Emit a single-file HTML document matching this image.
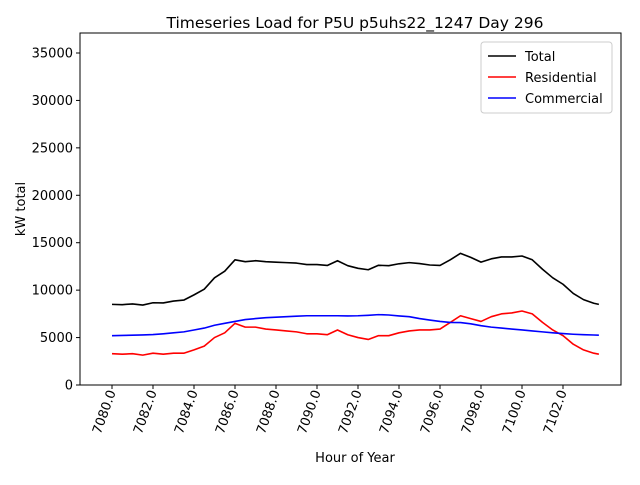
<!DOCTYPE html>
<html><head><meta charset="utf-8"><style>
body{margin:0;background:#fff;}
svg{font-family:"DejaVu Sans","Liberation Sans",sans-serif;}
</style></head><body>
<svg id="chart" width="640" height="480" xmlns="http://www.w3.org/2000/svg">
<rect width="640" height="480" fill="#fff"/>
<text x="355" y="28" text-anchor="middle" font-size="15.5">Timeseries Load for P5U p5uhs22_1247  Day 296</text>
<g id="plot"></g>
<rect x="80" y="33" width="541" height="352" fill="none" stroke="#000" stroke-width="1"/>
<text x="355" y="462" text-anchor="middle" font-size="13">Hour of Year</text>
<text transform="translate(25,209) rotate(-90)" text-anchor="middle" font-size="13">kW total</text>
<g>
<rect x="481" y="42" width="131" height="71" fill="#fff" stroke="#ccc" rx="3"/>
<line x1="488" y1="56" x2="516" y2="56" stroke="#000" stroke-width="1.6"/>
<text x="525" y="61" font-size="13">Total</text>
<line x1="488" y1="77" x2="516" y2="77" stroke="#f00" stroke-width="1.6"/>
<text x="525" y="82" font-size="13">Residential</text>
<line x1="488" y1="98" x2="516" y2="98" stroke="#00f" stroke-width="1.6"/>
<text x="525" y="103" font-size="13">Commercial</text>
</g>
</svg>
<script>
const hours=[7080,7080.5,7081,7081.5,7082,7082.5,7083,7083.5,7084,7084.5,7085,7085.5,7086,7086.5,7087,7087.5,7088,7088.5,7089,7089.5,7090,7090.5,7091,7091.5,7092,7092.5,7093,7093.5,7094,7094.5,7095,7095.5,7096,7096.5,7097,7097.5,7098,7098.5,7099,7099.5,7100,7100.5,7101,7101.5,7102,7102.5,7103,7103.5,7103.75];
const residential=[3300,3250,3300,3150,3350,3250,3350,3350,3700,4100,5000,5500,6500,6100,6100,5900,5800,5700,5600,5400,5400,5300,5800,5300,5000,4800,5200,5200,5500,5700,5800,5800,5900,6600,7300,7000,6700,7200,7500,7600,7800,7500,6600,5800,5200,4300,3700,3350,3250];
const commercial=[5200,5220,5250,5280,5320,5400,5500,5600,5800,6000,6300,6500,6700,6900,7000,7100,7150,7200,7250,7300,7300,7300,7300,7280,7300,7350,7420,7380,7280,7200,7000,6850,6700,6600,6580,6450,6250,6100,6000,5900,5800,5700,5600,5500,5420,5350,5300,5270,5250];
const total=[8500,8470,8550,8430,8670,8650,8850,8950,9500,10100,11300,12000,13200,13000,13100,13000,12950,12900,12850,12700,12700,12600,13100,12580,12300,12150,12620,12580,12780,12900,12800,12650,12600,13200,13880,13450,12950,13300,13500,13500,13600,13200,12200,11300,10620,9650,9000,8620,8500];
const xTicks=[7080,7082,7084,7086,7088,7090,7092,7094,7096,7098,7100,7102];
const yTicks=[0,5000,10000,15000,20000,25000,30000,35000];
const NS="http://www.w3.org/2000/svg";
function xs(h){return 112+(h-7080)*20.5;}
function ys(v){return 385-v*(47.43/5000);}
const plot=document.getElementById('plot');
function mk(t,a){const e=document.createElementNS(NS,t);for(const k in a)e.setAttribute(k,a[k]);return e;}
yTicks.forEach(v=>{
  const l=mk('line',{x1:76,x2:80,y1:ys(v),y2:ys(v),stroke:'#000'});
  
  
  plot.appendChild(l);
  const t=mk('text',{x:73,y:ys(v)+4.5,'text-anchor':'end','font-size':13});
  t.textContent=v;
  
  
  plot.appendChild(t);
});
xTicks.forEach(h=>{
  const x=xs(h);
  const l=mk('line',{x1:x,x2:x,y1:385,y2:389,stroke:'#000'});
  
  
  plot.appendChild(l);
  const t=mk('text',{transform:`translate(${x+4},392) rotate(-70)`,'text-anchor':'end','font-size':13});
  t.textContent=h.toFixed(1);
  
  
  plot.appendChild(t);
});
function line(vals,color,name){
  const p=mk('polyline',{points:vals.map((v,i)=>xs(hours[i])+','+ys(v)).join(' '),fill:'none',stroke:color,'stroke-width':1.6,'stroke-linejoin':'round'});
  
  
  plot.appendChild(p);
}
line(total,'#000','total-line');
line(residential,'#f00','residential-line');
line(commercial,'#00f','commercial-line');
</script>
</body></html>
